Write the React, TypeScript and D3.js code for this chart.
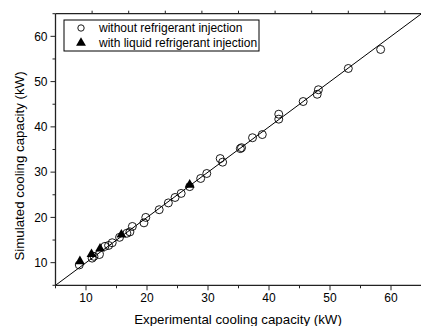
import React from "react";
import * as d3 from "d3";

const circleX = [8.9, 11.0, 11.3, 12.2, 13.1, 13.7, 14.3, 15.5, 16.7, 17.2, 17.6, 19.5, 19.8, 22.0, 23.5, 24.6, 25.6, 27.0, 28.8, 29.8, 32.0, 32.4, 35.3, 35.5, 37.3, 38.9, 41.6, 41.6, 45.6, 48.1, 47.9, 53.0, 58.3];
const circleY = [9.5, 11.0, 11.4, 11.8, 13.6, 13.8, 14.4, 15.6, 16.5, 16.8, 18.0, 18.8, 20.0, 21.7, 23.2, 24.4, 25.3, 26.8, 28.6, 29.7, 33.0, 32.2, 35.2, 35.4, 37.6, 38.3, 42.8, 41.7, 45.6, 48.2, 47.2, 52.9, 57.1];
const triX = [9.0, 10.9, 12.3, 15.8, 27.0];
const triY = [10.3, 11.9, 13.1, 16.2, 27.2];
const xTicks = [10, 20, 30, 40, 50, 60];
const yTicks = [10, 20, 30, 40, 50, 60];
const minorTicks = [5, 15, 25, 35, 45, 55, 65];
const legendLabels = ["without refrigerant injection", "with liquid refrigerant injection"];
const xTitle = "Experimental cooling capacity (kW)";
const yTitle = "Simulated cooling capacity (kW)";

export default function App() {
  const W = 421, H = 326;
  const L = 55.5, R = 421.5, T = 13.7, B = 285.3;
  const x = d3.scaleLinear().domain([5, 65]).range([L, R]);
  const y = d3.scaleLinear().domain([5, 65]).range([B, T]);
  const topScale = d3.scaleLinear().domain([0, 10]).range([L, R]);
  const font = "Liberation Sans, Arial, sans-serif";
  const tri = d3.symbol().type(d3.symbolTriangle).size(42)();
  return (
    <svg width={W} height={H} style={{ position: "absolute", left: 0, top: 0 }} fontFamily={font}>
      <rect width={W} height={H} fill="white" />
      <line x1={x(5)} y1={y(5)} x2={x(65)} y2={y(65)} stroke="black" strokeWidth={1} />
      <line x1={L} y1={B} x2={R} y2={B} stroke="#222" strokeWidth={1.3} />
      <line x1={L} y1={T} x2={L} y2={B} stroke="#222" strokeWidth={1.3} />
      <line x1={L} y1={T} x2={R} y2={T} stroke="#222" strokeWidth={1.3} />
      {xTicks.map((t) => (
        <g key={"xt" + t}>
          <line x1={x(t)} x2={x(t)} y1={B} y2={B + 5} stroke="#222" />
          <text x={x(t)} y={B + 17} fontSize={12} textAnchor="middle">{t}</text>
        </g>
      ))}
      {minorTicks.map((t) => (
        <g key={"mt" + t}>
          <line x1={x(t)} x2={x(t)} y1={B} y2={B + 3} stroke="#222" />
          <line x1={L} x2={L - 3} y1={y(t)} y2={y(t)} stroke="#222" />
        </g>
      ))}
      {yTicks.map((t) => (
        <g key={"yt" + t}>
          <line x1={L} x2={L - 5} y1={y(t)} y2={y(t)} stroke="#222" />
          <text x={L - 8} y={y(t) + 4.3} fontSize={12} textAnchor="end">{t}</text>
        </g>
      ))}
      {d3.range(1, 10).map((t) => (
        <line key={"tt" + t} x1={topScale(t)} x2={topScale(t)} y1={T} y2={T - 3} stroke="#222" />
      ))}
      {circleX.map((v, i) => (
        <circle key={"c" + i} cx={x(v)} cy={y(circleY[i])} r={4} fill="none" stroke="black" strokeWidth={0.9} />
      ))}
      {triX.map((v, i) => (
        <path key={"t" + i} d={tri!} transform={`translate(${x(v)},${y(triY[i])})`} fill="black" />
      ))}
      <rect x={64} y={20} width={195} height={31} fill="white" stroke="black" strokeWidth={1} />
      <circle cx={81} cy={28} r={3.2} fill="none" stroke="black" strokeWidth={0.9} />
      <path d={tri!} transform="translate(81,43)" fill="black" />
      <text x={99} y={32} fontSize={12}>{legendLabels[0]}</text>
      <text x={99} y={47} fontSize={12}>{legendLabels[1]}</text>
      <text x={238} y={323.5} fontSize={13.3} textAnchor="middle">{xTitle}</text>
      <text transform="translate(24,166) rotate(-90)" fontSize={13.3} textAnchor="middle">{yTitle}</text>
    </svg>
  );
}
